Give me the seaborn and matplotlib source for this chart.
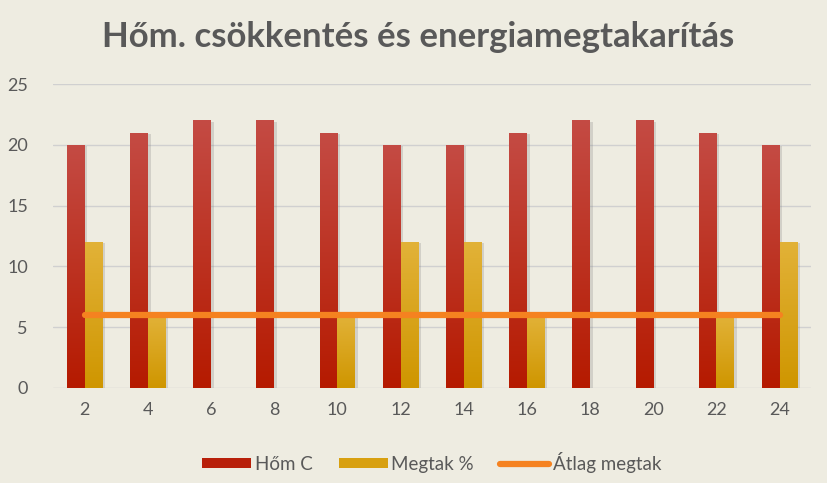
import numpy as np
import pandas as pd
import matplotlib
matplotlib.use("Agg")
import matplotlib.pyplot as plt
import matplotlib.patheffects as pe
from matplotlib.colors import LinearSegmentedColormap
from matplotlib.lines import Line2D
from matplotlib.patches import Patch
import seaborn as sns

# adatok
kategoriak = [2, 4, 6, 8, 10, 12, 14, 16, 18, 20, 22, 24]
hom_c = [20, 21, 22, 22, 21, 20, 20, 21, 22, 22, 21, 20]
megtak = [12, 6, 0, 0, 6, 12, 12, 6, 0, 0, 6, 12]
atlag = [6] * 12

bg = "#EEECE1"
szoveg = "#595959"

sns.set_theme(style="white")
plt.rcParams["font.family"] = ["Lato", "DejaVu Sans"]

df = pd.DataFrame({
    "kat": [str(k) for k in kategoriak] * 2,
    "ertek": hom_c + megtak,
    "sorozat": ["Hőm C"] * 12 + ["Megtak %"] * 12,
})

fig = plt.figure(figsize=(8.27, 4.83), dpi=100, facecolor=bg)
ax = fig.add_axes([0.064, 0.197, 0.917, 0.629], facecolor=bg)

sns.barplot(data=df, x="kat", y="ertek", hue="sorozat",
            palette=["#B8200A", "#D8A010"], width=0.56, gap=0,
            legend=False, ax=ax, saturation=1)

# színátmenet a rudakon
cmaps = {
    0: LinearSegmentedColormap.from_list("r", ["#B51A00", "#C44B44"]),
    1: LinearSegmentedColormap.from_list("g", ["#CF9600", "#E2B238"]),
}
grad = np.linspace(0, 1, 256).reshape(-1, 1)
for i, cont in enumerate(ax.containers):
    for bar in cont:
        h = bar.get_height()
        if h <= 0:
            bar.set_visible(False)
            continue
        x0, w = bar.get_x(), bar.get_width()
        bar.set_path_effects([pe.SimplePatchShadow(offset=(2, -1), alpha=0.25, shadow_rgbFace="#7f7f7f")])
        im = ax.imshow(grad, extent=[x0, x0 + w, 0, h], origin="lower",
                       cmap=cmaps[i], aspect="auto", zorder=bar.get_zorder() + 0.1)
        im.set_clip_path(bar)

sns.lineplot(x=np.arange(len(kategoriak)), y=atlag, color="#F58220",
             linewidth=4.5, ax=ax, zorder=5, solid_capstyle="round")

ax.set_xlim(-0.5, len(kategoriak) - 0.5)
ax.set_ylim(0, 25)
ax.set_yticks(range(0, 26, 5))
ax.yaxis.grid(True, color="#D0D0D0", linewidth=1)
ax.set_axisbelow(True)
for s in ax.spines.values():
    s.set_visible(False)
ax.tick_params(axis="both", length=0, labelsize=13, colors=szoveg)
ax.tick_params(axis="y", pad=18)
ax.tick_params(axis="x", pad=10)
ax.set_xlabel("")
ax.set_ylabel("")

fig.text(0.505, 0.924, "Hőm. csökkentés és energiamegtakarítás", ha="center", va="center",
         fontsize=25, fontweight="bold", color=szoveg)

handles = [
    Patch(facecolor="#B8200A", edgecolor="none"),
    Patch(facecolor="#D8A010", edgecolor="none"),
    Line2D([0], [0], color="#F58220", linewidth=4.5, solid_capstyle="round"),
]
fig.legend(handles, ["Hőm C", "Megtak %", "Átlag megtak"], loc="center",
           bbox_to_anchor=(0.522, 0.043), ncol=3, frameon=False, fontsize=13.5,
           labelcolor=szoveg, handlelength=2.6, handleheight=0.5, handletextpad=0.2,
           columnspacing=1.4)

fig.savefig("out.png", dpi=100, facecolor=bg)
